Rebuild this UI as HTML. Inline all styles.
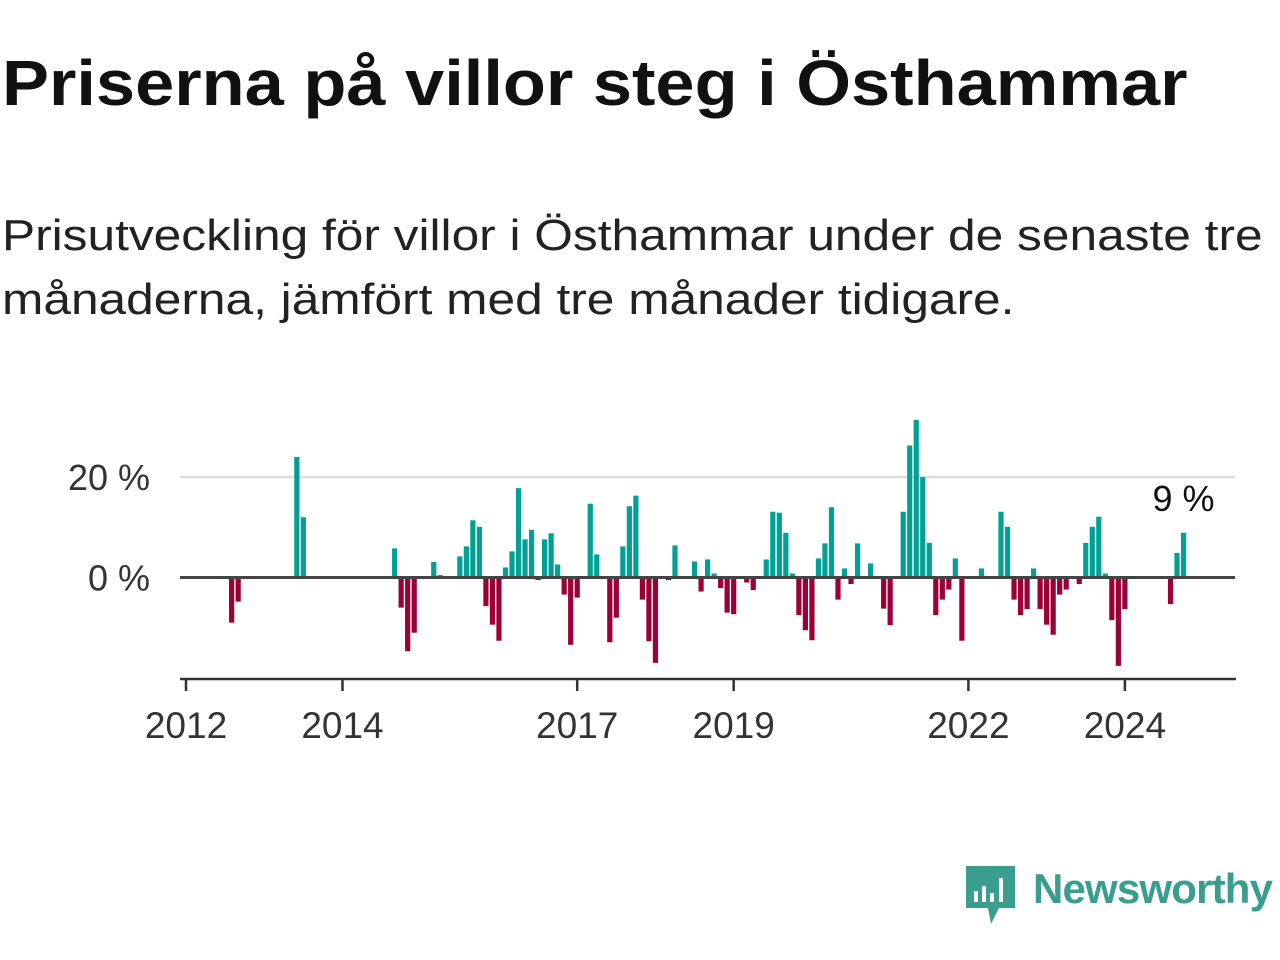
<!DOCTYPE html>
<html><head><meta charset="utf-8">
<style>
body{margin:0;width:1280px;height:960px;background:#fff;font-family:"Liberation Sans",sans-serif;overflow:hidden;position:relative}
#title{position:absolute;left:2px;top:46px;font-size:64px;font-weight:bold;color:#111;margin:0;white-space:nowrap;transform-origin:0 0;transform:scaleX(1.1)}
#sub{position:absolute;left:2px;top:204px;font-size:44px;line-height:64px;color:#222;margin:0;width:1140px;transform-origin:0 0;transform:scaleX(1.128)}
svg{position:absolute;left:0;top:0}
</style></head><body>
<h1 id="title">Priserna på villor steg i Östhammar</h1>
<p id="sub">Prisutveckling för villor i Östhammar under de senaste tre<br>månaderna, jämfört med tre månader tidigare.</p>
<svg id="chart" width="1280" height="960"></svg>
<script>
const months=[7,8,17,18,32,33,34,35,38,39,42,43,44,45,46,47,48,49,50,51,52,53,54,55,56,57,58,59,60,62,63,65,66,67,68,69,70,71,72,74,75,78,79,80,81,82,83,84,86,87,89,90,91,92,93,94,95,96,97,98,99,100,101,102,103,105,107,108,110,111,112,113,114,115,116,117,118,119,122,125,126,127,128,129,130,131,132,133,134,135,137,138,139,140,141,142,143,144,151,152,153];
const values=[-9,-4.8,24,12,5.8,-6,-14.7,-11,3.1,0.5,4.2,6.2,11.4,10.1,-5.7,-9.4,-12.6,2,5.2,17.8,7.6,9.5,-0.5,7.6,8.8,2.6,-3.4,-13.4,-4,14.7,4.6,-12.9,-8,6.2,14.2,16.3,-4.4,-12.7,-17,-0.5,6.4,3.2,-2.8,3.6,0.8,-2.1,-7,-7.3,-1,-2.5,3.6,13.1,12.9,8.9,0.8,-7.5,-10.5,-12.5,3.8,6.8,14,-4.4,1.8,-1.3,6.8,2.8,-6.2,-9.5,13.1,26.3,31.4,20,6.9,-7.5,-4.4,-2.4,3.8,-12.6,1.8,13.1,10.1,-4.4,-7.5,-6.3,1.8,-6.3,-9.4,-11.4,-3.4,-2.4,-1.3,6.9,10.1,12.1,0.8,-8.5,-17.6,-6.3,-5.3,4.9,8.9];
const yTicks=[0,20];
const yTickLabels=["0 %","20 %"];
const xYears=[2012,2014,2017,2019,2022,2024];
const lastLabel="9 %";

const svg=document.getElementById('chart');
const NS='http://www.w3.org/2000/svg';
const x0=186, monthW=6.52, y0=577.5, pxPer=5.02;
const X=m=>x0+m*monthW;
const Y=v=>y0-v*pxPer;
function mk(t,a){const e=document.createElementNS(NS,t);for(const k in a)e.setAttribute(k,a[k]);svg.appendChild(e);return e;}
yTicks.forEach((v,i)=>{
 if(v!==0){const g=mk('line',{x1:180,x2:1235,y1:Y(v),y2:Y(v),stroke:'#dddddd','stroke-width':2.5});
 
 }
 const t=mk('text',{x:150,y:Y(v)+13,'text-anchor':'end','font-size':36,fill:'#333','font-family':'Liberation Sans, sans-serif'});
 t.textContent=yTickLabels[i];
 
 
});
months.forEach((m,i)=>{
 const v=values[i];const top=Math.min(Y(v),y0),h=Math.abs(Y(v)-y0);
 const r=mk('rect',{x:X(m)-2.6,y:top,width:5.2,height:h,fill:v>=0?'#00a194':'#9b0036'});
 
 
});
const z=mk('line',{x1:180,x2:1235,y1:y0,y2:y0,stroke:'#444','stroke-width':3});


const ax=mk('line',{x1:180,x2:1236,y1:679,y2:679,stroke:'#333','stroke-width':2.5});


xYears.forEach(yr=>{
 const xx=X((yr-2012)*12);
 const tk=mk('line',{x1:xx,x2:xx,y1:679,y2:691,stroke:'#333','stroke-width':2.5});
 
 
 const t=mk('text',{x:xx,y:738,'text-anchor':'middle','font-size':37,fill:'#333','font-family':'Liberation Sans, sans-serif'});
 t.textContent=yr;
 
 
});
const lm=months[months.length-1];
const lt=mk('text',{x:X(lm)+31,y:511,'text-anchor':'end','font-size':36,fill:'#111','font-family':'Liberation Sans, sans-serif'});
lt.textContent=lastLabel;


</script>
<svg width="1280" height="960" style="pointer-events:none">
<path d="M966 866 h49 v42 h-16 l-8 16 l-3 -16 h-22 z" fill="#3a9e8f"/>
<rect x="974" y="891" width="4" height="11" fill="#fff"/>
<rect x="982" y="886" width="4" height="16" fill="#fff"/>
<rect x="990" y="893" width="4" height="9" fill="#fff"/>
<rect x="999" y="878" width="4" height="24" fill="#fff"/>
<text x="1033" y="903" font-size="42" font-weight="bold" fill="#3a9e8f" font-family="Liberation Sans, sans-serif" textLength="240">Newsworthy</text>
</svg>
</body></html>
